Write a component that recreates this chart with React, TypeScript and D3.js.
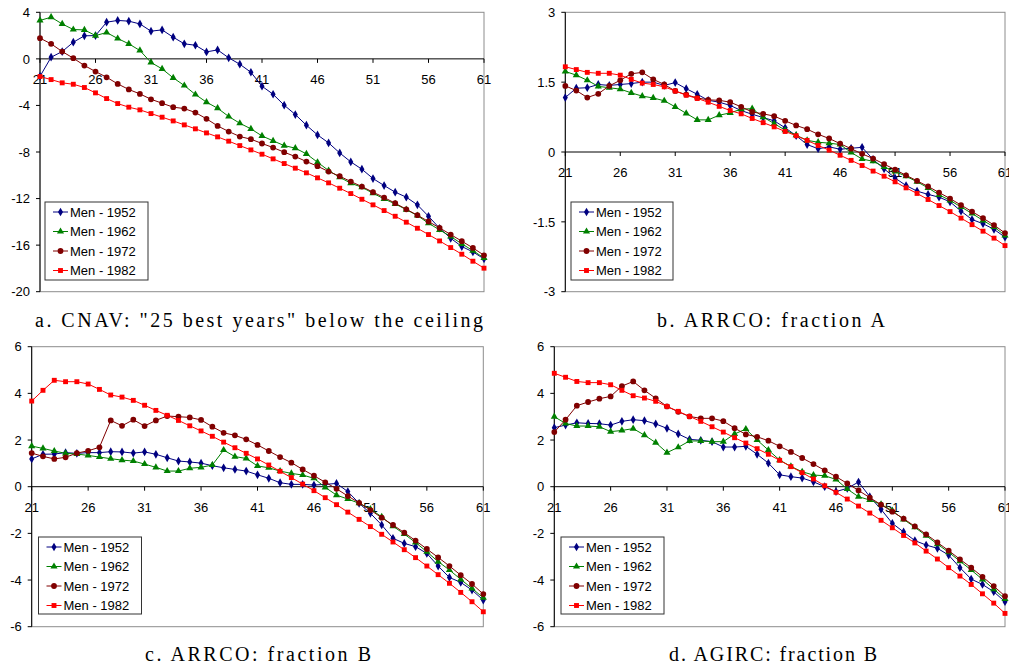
import React from "react";
import * as d3 from "d3";

const ages = [21,22,23,24,25,26,27,28,29,30,31,32,33,34,35,36,37,38,39,40,41,42,43,44,45,46,47,48,49,50,51,52,53,54,55,56,57,58,59,60,61];
const xTickLabels = [21, 26, 31, 36, 41, 46, 51, 56, 61];
const seriesNames = ["Men - 1952", "Men - 1962", "Men - 1972", "Men - 1982"];

// Panel a: CNAV
const cnav1952 = [-1.5,0.14,0.63,1.43,1.98,2.0,3.15,3.3,3.24,3.0,2.38,2.49,1.86,1.29,1.17,0.6,0.77,0.09,-0.46,-1.15,-2.35,-3.04,-3.98,-4.78,-5.7,-6.53,-7.22,-8.08,-8.85,-9.48,-10.28,-10.88,-11.45,-11.88,-12.54,-13.52,-14.55,-15.41,-16.12,-16.58,-17.18];
const cnav1962 = [3.3,3.58,3.0,2.52,2.49,2.0,2.26,1.75,1.29,0.72,-0.31,-0.86,-1.63,-2.29,-3.06,-3.72,-4.24,-4.95,-5.53,-6.01,-6.62,-7.04,-7.45,-7.67,-8.16,-8.88,-9.59,-10.17,-10.68,-11.03,-11.54,-12.03,-12.46,-12.95,-13.46,-14.12,-14.69,-15.26,-15.89,-16.47,-17.1];
const cnav1972 = [1.78,1.29,0.63,0.06,-0.57,-1.09,-1.58,-2.15,-2.63,-3.01,-3.47,-3.81,-4.15,-4.27,-4.61,-5.15,-5.76,-6.24,-6.67,-6.9,-7.27,-7.62,-8.02,-8.39,-8.82,-9.22,-9.68,-10.08,-10.54,-10.97,-11.45,-11.91,-12.4,-12.92,-13.43,-13.97,-14.52,-15.09,-15.66,-16.24,-16.87];
const cnav1982 = [-1.52,-1.78,-2.06,-2.18,-2.46,-2.92,-3.41,-3.84,-4.15,-4.38,-4.7,-5.01,-5.33,-5.67,-6.01,-6.36,-6.7,-7.07,-7.45,-7.82,-8.19,-8.59,-8.99,-9.39,-9.79,-10.22,-10.65,-11.11,-11.57,-12.06,-12.54,-13.03,-13.52,-14.03,-14.55,-15.09,-15.64,-16.21,-16.78,-17.38,-17.98];

// Panel b: ARRCO fraction A
const arrcoA1952 = [1.17,1.37,1.38,1.45,1.43,1.45,1.47,1.5,1.5,1.43,1.49,1.36,1.24,1.11,1.07,1.0,0.89,0.81,0.74,0.67,0.52,0.35,0.16,0.07,0.11,0.06,0.08,0.1,-0.16,-0.36,-0.56,-0.72,-0.84,-0.91,-0.97,-1.07,-1.27,-1.45,-1.54,-1.66,-1.83];
const arrcoA1962 = [1.73,1.65,1.54,1.41,1.38,1.35,1.27,1.2,1.16,1.1,0.97,0.83,0.69,0.69,0.79,0.84,0.92,0.93,0.75,0.61,0.47,0.36,0.25,0.21,0.19,0.16,-0.01,-0.15,-0.2,-0.32,-0.42,-0.52,-0.64,-0.77,-0.92,-1.04,-1.18,-1.32,-1.47,-1.61,-1.79];
const arrcoA1972 = [1.42,1.32,1.17,1.25,1.42,1.54,1.68,1.71,1.56,1.45,1.31,1.23,1.16,1.12,1.11,1.07,0.97,0.86,0.82,0.77,0.67,0.57,0.49,0.38,0.29,0.18,0.07,-0.04,-0.14,-0.26,-0.38,-0.5,-0.62,-0.74,-0.87,-1.0,-1.14,-1.28,-1.42,-1.57,-1.74];
const arrcoA1982 = [1.83,1.77,1.71,1.69,1.69,1.65,1.56,1.48,1.45,1.4,1.31,1.22,1.15,1.07,0.98,0.89,0.82,0.72,0.63,0.54,0.44,0.35,0.25,0.14,0.04,-0.07,-0.18,-0.29,-0.41,-0.52,-0.64,-0.77,-0.89,-1.02,-1.15,-1.28,-1.42,-1.56,-1.7,-1.85,-2.01];

// Panel c: ARRCO fraction B
const arrcoB1952 = [1.19,1.39,1.4,1.46,1.43,1.46,1.46,1.5,1.49,1.44,1.49,1.39,1.24,1.1,1.06,1.01,0.9,0.81,0.74,0.67,0.51,0.36,0.17,0.1,0.1,0.07,0.1,0.14,-0.21,-0.71,-1.14,-1.64,-2.21,-2.43,-2.57,-2.86,-3.4,-3.89,-4.1,-4.43,-4.86];
const arrcoB1962 = [1.74,1.64,1.53,1.43,1.4,1.34,1.27,1.2,1.14,1.1,0.97,0.83,0.67,0.67,0.79,0.83,0.93,1.57,1.29,1.21,0.89,0.81,0.67,0.57,0.5,0.36,-0.03,-0.36,-0.53,-0.71,-0.96,-1.29,-1.69,-2.03,-2.39,-2.79,-3.21,-3.57,-3.97,-4.36,-4.76];
const arrcoB1972 = [1.44,1.3,1.19,1.26,1.44,1.54,1.69,2.84,2.61,2.87,2.6,2.84,3.03,3.0,2.97,2.86,2.57,2.31,2.2,2.03,1.79,1.53,1.27,1.03,0.74,0.47,0.19,-0.09,-0.4,-0.69,-1.0,-1.33,-1.64,-1.97,-2.31,-2.67,-3.03,-3.4,-3.79,-4.17,-4.6];
const arrcoB1982 = [3.67,4.13,4.56,4.5,4.5,4.4,4.17,3.93,3.84,3.7,3.49,3.27,3.06,2.84,2.61,2.39,2.16,1.91,1.67,1.43,1.19,0.93,0.66,0.39,0.11,-0.17,-0.47,-0.77,-1.09,-1.4,-1.71,-2.04,-2.37,-2.7,-3.04,-3.4,-3.77,-4.14,-4.53,-4.93,-5.36];

// Panel d: AGIRC fraction B
const agirc1952 = [2.53,2.64,2.74,2.71,2.7,2.64,2.8,2.87,2.83,2.69,2.5,2.26,2.03,1.99,1.93,1.7,1.7,1.73,1.39,1.01,0.51,0.43,0.37,0.21,0.0,-0.21,-0.07,0.2,-0.43,-0.97,-1.57,-1.94,-2.31,-2.5,-2.64,-2.93,-3.47,-3.96,-4.19,-4.5,-4.93];
const agirc1962 = [3.0,2.71,2.6,2.6,2.57,2.36,2.41,2.49,2.21,1.89,1.46,1.69,1.96,1.96,1.93,1.93,2.26,2.47,2.0,1.57,1.14,0.87,0.64,0.5,0.47,0.31,-0.1,-0.43,-0.57,-0.76,-1.03,-1.4,-1.74,-2.1,-2.46,-2.81,-3.19,-3.57,-3.97,-4.39,-4.81];
const agirc1972 = [2.34,2.87,3.47,3.63,3.77,3.87,4.31,4.51,4.13,3.79,3.44,3.21,3.01,2.93,2.93,2.81,2.51,2.24,2.14,1.97,1.73,1.49,1.23,0.97,0.7,0.43,0.14,-0.16,-0.47,-0.77,-1.07,-1.37,-1.7,-2.04,-2.39,-2.74,-3.11,-3.47,-3.86,-4.26,-4.69];
const agirc1982 = [4.86,4.69,4.51,4.46,4.46,4.37,4.13,3.9,3.8,3.66,3.44,3.23,3.01,2.8,2.57,2.34,2.1,1.87,1.63,1.39,1.13,0.86,0.6,0.33,0.04,-0.24,-0.53,-0.83,-1.13,-1.44,-1.76,-2.09,-2.41,-2.76,-3.1,-3.47,-3.83,-4.19,-4.59,-4.99,-5.43];

const yTicksA = [4, 0, -4, -8, -12, -16, -20];
const yTicksB = [3, 1.5, 0, -1.5, -3];
const yTicksC = [6, 4, 2, 0, -2, -4, -6];
const yTicksD = [6, 4, 2, 0, -2, -4, -6];

const captions = [
  'a. CNAV: "25 best years" below the ceiling',
  "b. ARRCO: fraction A",
  "c. ARRCO: fraction B",
  "d. AGIRC: fraction B",
];

const colors = ["#000080", "#008000", "#800000", "#FF0000"];
const symbols = [d3.symbolDiamond, d3.symbolTriangle, d3.symbolCircle, d3.symbolSquare];
const symbolSizes = [22, 22, 26, 24];

const panels = [
  { series: [cnav1952, cnav1962, cnav1972, cnav1982], ticks: yTicksA, domain: [-20, 4],
    x0: 40, x1: 484, y0: 12.3, y1: 291.7, legend: { x: 45, y: 202, w: 103, h: 78 }, cap: { x: 259, y: 326.5, w: 448 } },
  { series: [arrcoA1952, arrcoA1962, arrcoA1972, arrcoA1982], ticks: yTicksB, domain: [-3, 3],
    x0: 565.3, x1: 1005, y0: 12.3, y1: 291.7, legend: { x: 571, y: 202, w: 102, h: 78 }, cap: { x: 771, y: 326.5, w: 228 } },
  { series: [arrcoB1952, arrcoB1962, arrcoB1972, arrcoB1982], ticks: yTicksC, domain: [-6, 6],
    x0: 31.7, x1: 483.3, y0: 346.7, y1: 626.7, legend: { x: 38.5, y: 537, w: 103, h: 77 }, cap: { x: 258, y: 660.5, w: 226 } },
  { series: [agirc1952, agirc1962, agirc1972, agirc1982], ticks: yTicksD, domain: [-6, 6],
    x0: 554.3, x1: 1005, y0: 346.7, y1: 626.7, legend: { x: 561, y: 537, w: 103, h: 77 }, cap: { x: 773, y: 660.5, w: 208 } },
];

const sansFont = "'Liberation Sans', Arial, sans-serif";
const serifFont = "'Liberation Serif', 'Times New Roman', serif";

function Panel({ p, idx }: { p: any; idx: number }) {
  const x = d3.scaleLinear().domain([21, 61]).range([p.x0, p.x1]);
  const y = d3.scaleLinear().domain(p.domain).range([p.y1, p.y0]);
  const line = d3.line<number>().x((_, i) => x(ages[i])).y((d) => y(d));
  const zeroY = y(0);
  return (
    <g>
      <rect x={p.x0} y={p.y0} width={p.x1 - p.x0} height={p.y1 - p.y0} fill="none" stroke="#8c8c8c" strokeWidth={1} />
      <line x1={p.x0} x2={p.x0} y1={p.y0} y2={p.y1} stroke="#000" strokeWidth={1} />
      {p.ticks.map((t: number) => (
        <g key={"yt" + t}>
          <line x1={p.x0 - 4} x2={p.x0} y1={y(t)} y2={y(t)} stroke="#000" />
          <text x={p.x0 - 10} y={y(t)} dy="0.36em" textAnchor="end" fontFamily={sansFont} fontSize={13} fill="#000">
            {String(t)}
          </text>
        </g>
      ))}
      <line x1={p.x0} x2={p.x1} y1={zeroY} y2={zeroY} stroke="#000" strokeWidth={1} />
      {xTickLabels.map((t) => (
        <g key={"xt" + t}>
          <line x1={x(t)} x2={x(t)} y1={zeroY} y2={zeroY + 4} stroke="#000" />
          <text x={x(t)} y={zeroY + 25} textAnchor="middle" fontFamily={sansFont} fontSize={13} fill="#000">
            {String(t)}
          </text>
        </g>
      ))}
      {p.series.map((s: number[], si: number) => {
        const sym = d3.symbol().type(symbols[si]).size(symbolSizes[si])();
        return (
          <g key={"s" + si}>
            <path d={line(s) || ""} fill="none" stroke={colors[si]} strokeWidth={1} />
            {s.map((v, i) => (
              <path key={i} d={sym || ""} transform={`translate(${x(ages[i])},${y(v)})`} fill={colors[si]} />
            ))}
          </g>
        );
      })}
      <rect x={p.legend.x} y={p.legend.y} width={p.legend.w} height={p.legend.h} fill="#fff" stroke="#333" strokeWidth={1} />
      {seriesNames.map((name, si) => {
        const cy = p.legend.y + 10 + si * 19.5;
        const lx = p.legend.x + 8;
        const sym = d3.symbol().type(symbols[si]).size(symbolSizes[si])();
        return (
          <g key={"lg" + si}>
            <line x1={lx} x2={lx + 15} y1={cy} y2={cy} stroke={colors[si]} strokeWidth={1} />
            <path d={sym || ""} transform={`translate(${lx + 7.5},${cy})`} fill={colors[si]} />
            <text x={lx + 17} y={cy} dy="0.36em" fontFamily={sansFont} fontSize={13} fill="#000">
              {name}
            </text>
          </g>
        );
      })}
      <text x={p.cap.x - p.cap.w / 2} y={p.cap.y} textLength={p.cap.w} lengthAdjust="spacing"
        fontFamily={serifFont} fontSize={20} fill="#000">
        {captions[idx]}
      </text>
    </g>
  );
}

export default function App() {
  return (
    <svg width={1009} height={667} style={{ position: "absolute", left: 0, top: 0, background: "#fff" }}>
      <rect x={0} y={0} width={1009} height={667} fill="#fff" />
      {panels.map((p, i) => (
        <Panel key={i} p={p} idx={i} />
      ))}
    </svg>
  );
}
